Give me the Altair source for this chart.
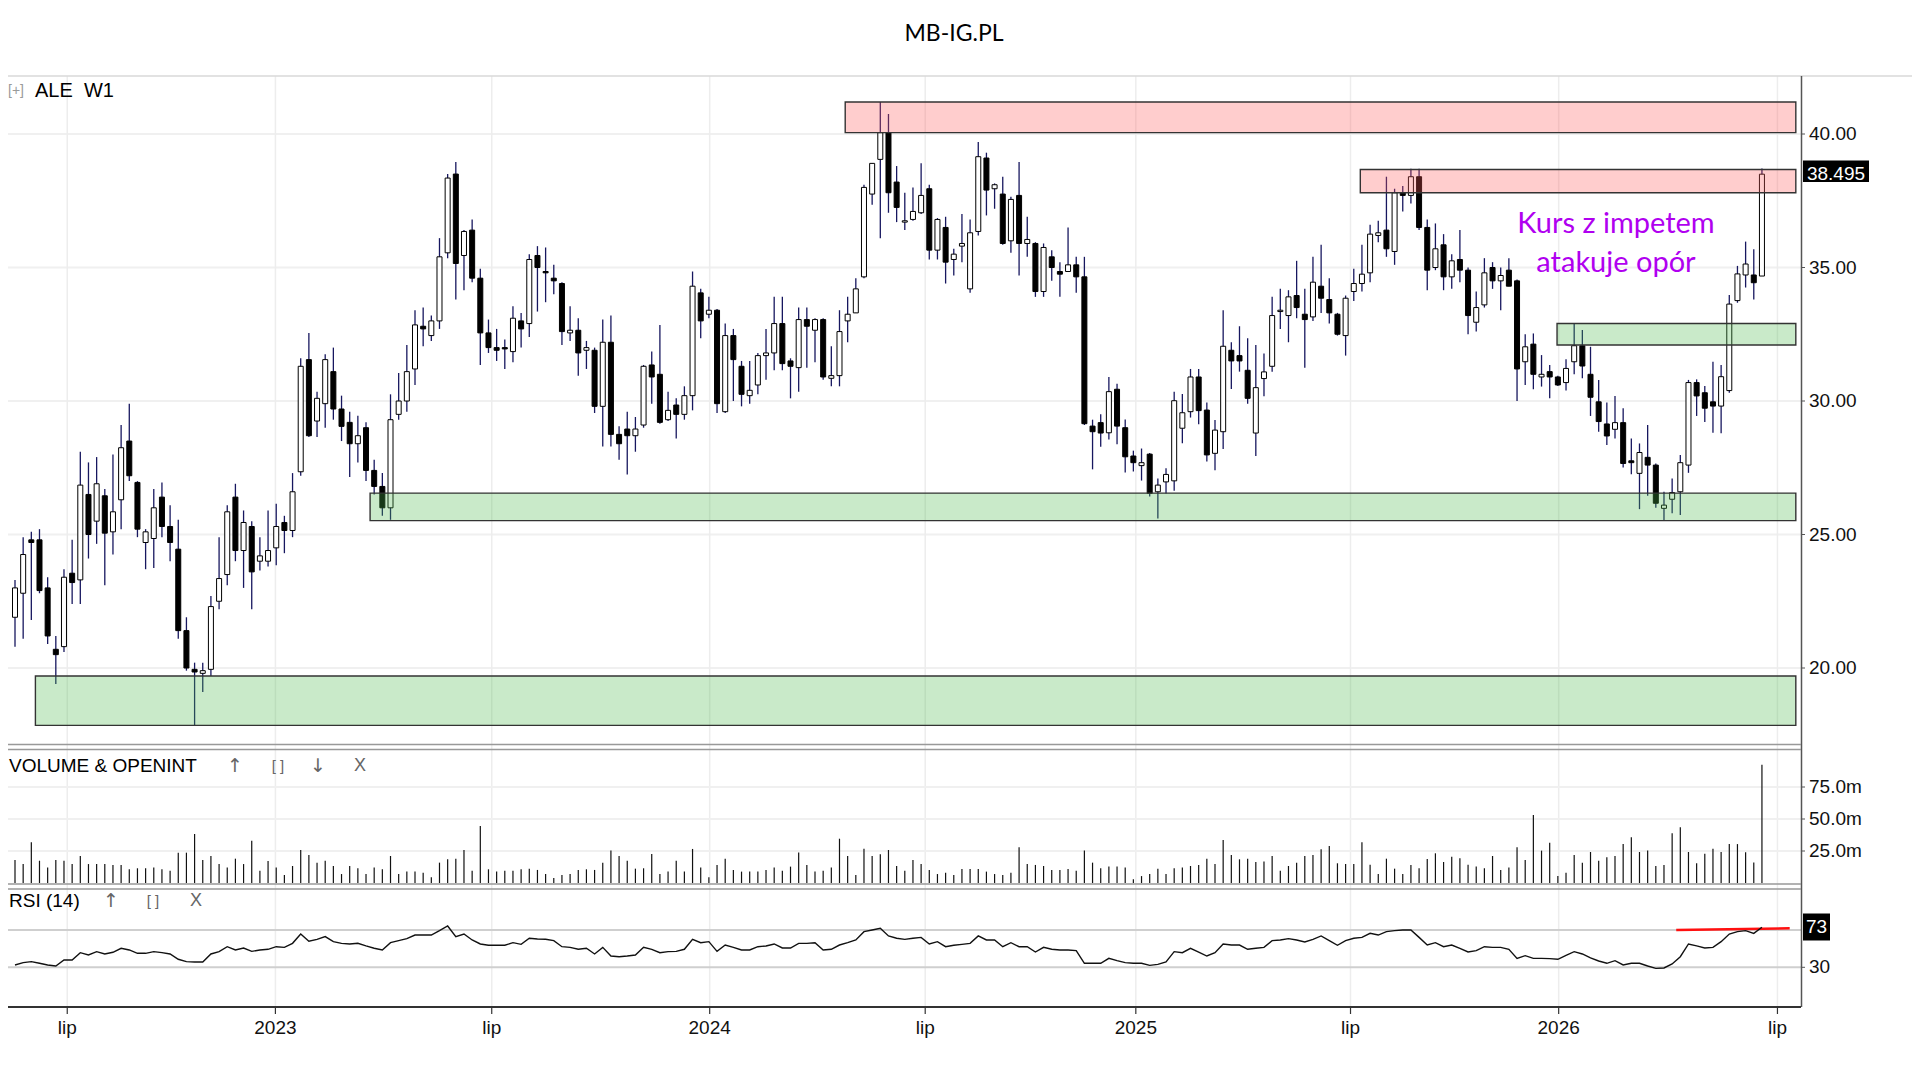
import altair as alt
import pandas as pd

# ---------------- data (weekly candles, index 0..214) -------------
opens = [21.9, 22.8, 24.8, 24.8, 23.0, 20.7, 20.8, 23.55, 23.3, 26.5,
         25.5, 26.45, 25.1, 26.3, 28.5, 26.95, 24.7, 24.85, 26.4, 25.3,
         24.45, 21.4, 19.95, 19.8, 19.95, 22.5, 23.5, 26.4, 24.4, 25.3,
         24.0, 24.0, 24.5, 25.45, 25.15, 27.35, 31.55, 29.25, 29.9, 31.1,
         29.7, 29.2, 28.4, 29.0, 27.4, 26.8, 26.0, 29.5, 30.0, 31.2,
         32.8, 32.45, 33.0, 35.55, 38.5, 35.45, 36.4, 34.6, 32.55, 32.0,
         32.0, 31.85, 33.0, 32.9, 35.45, 34.85, 34.6, 34.4, 32.55, 32.65,
         31.9, 31.9, 29.8, 32.2, 28.75, 28.95, 28.7, 29.1, 31.35, 31.0,
         29.3, 29.85, 29.5, 30.2, 34.05, 33.25, 33.4, 29.6, 32.45, 31.3,
         30.2, 30.6, 31.7, 31.8, 32.9, 31.5, 31.25, 33.05, 32.65, 33.05,
         30.85, 30.95, 33.0, 33.3, 34.65, 37.75, 39.05, 40.05, 38.2, 36.7,
         36.8, 37.05, 37.95, 35.65, 36.5, 35.3, 35.8, 34.2, 36.35, 39.1,
         37.95, 37.75, 36.0, 37.7, 35.9, 35.9, 34.1, 35.4, 34.85, 34.85,
         35.1, 34.65, 29.06, 29.19, 28.81, 30.44, 29.0, 27.94, 27.58, 28.01,
         26.6, 26.97, 27.01, 28.98, 29.6, 30.9, 29.66, 28.04, 28.85, 31.9,
         31.7, 31.15, 28.8, 30.84, 31.3, 33.35, 33.2, 33.95, 33.25, 33.15,
         34.3, 33.8, 33.25, 32.45, 34.1, 34.4, 34.8, 36.2, 36.4, 35.6,
         37.8, 37.7, 38.4, 36.5, 35.0, 35.85, 34.65, 35.3, 34.9, 32.95,
         33.6, 35.0, 34.5, 34.9, 34.5, 31.47, 32.13, 30.9, 31.1, 30.9,
         30.69, 31.47, 32.07, 31.0, 29.97, 29.14, 28.94, 29.19, 27.76, 27.29,
         27.89, 27.6, 25.98, 26.32, 26.6, 27.6, 30.69, 30.31, 29.97, 29.81,
         30.39, 33.76, 34.72, 34.72, 34.68]

highs = [23.3, 24.9, 25.1, 25.2, 23.4, 21.2, 23.7, 24.8, 28.1, 27.7,
         27.9, 26.7, 28.0, 29.1, 29.9, 27.0, 25.2, 26.7, 26.95, 26.1,
         25.55, 21.9, 20.2, 20.2, 22.7, 24.9, 26.1, 26.9, 25.9, 25.5,
         24.9, 25.9, 26.15, 25.7, 27.3, 31.6, 32.55, 30.35, 31.75, 32.0,
         30.2, 29.6, 29.45, 29.2, 27.8, 27.3, 30.25, 31.05, 32.1, 33.4,
         33.5, 33.2, 36.1, 38.5, 38.95, 36.4, 36.8, 34.95, 33.05, 32.7,
         32.3, 33.55, 33.3, 35.5, 35.8, 35.75, 35.1, 34.45, 33.55, 33.1,
         32.25, 32.0, 33.05, 33.2, 29.05, 29.6, 29.4, 31.35, 31.85, 32.85,
         30.35, 30.1, 30.55, 34.85, 34.2, 33.9, 33.45, 32.9, 32.7, 31.5,
         31.5, 31.8, 32.7, 33.9, 33.9, 31.6, 33.5, 33.5, 33.1, 33.1,
         32.05, 33.4, 33.9, 34.6, 38.1, 38.9, 41.2, 40.75, 38.8, 37.8,
         38.0, 38.9, 38.1, 36.85, 36.9, 35.7, 37.0, 36.8, 39.7, 39.3,
         38.15, 38.4, 37.65, 38.95, 36.9, 35.95, 35.9, 35.65, 35.2, 36.5,
         35.4, 35.4, 29.3, 29.5, 30.9, 30.65, 29.31, 28.14, 28.22, 28.05,
         27.1, 27.48, 30.35, 30.26, 31.2, 31.2, 29.94, 29.29, 33.4, 32.2,
         32.8, 32.35, 32.1, 31.78, 33.9, 34.2, 34.15, 35.25, 34.2, 35.4,
         35.85, 34.6, 33.3, 33.95, 34.95, 35.85, 36.6, 36.75, 38.4, 37.95,
         38.05, 38.7, 38.7, 36.8, 36.65, 36.25, 35.5, 36.4, 35.0, 34.1,
         35.35, 35.2, 35.0, 35.35, 34.55, 32.5, 32.53, 31.72, 31.35, 30.95,
         31.56, 32.9, 32.66, 32.03, 30.79, 29.94, 30.19, 29.73, 28.6, 28.41,
         29.1, 27.66, 26.6, 27.1, 27.98, 30.79, 30.81, 30.56, 31.47, 31.35,
         33.97, 35.06, 35.97, 35.68, 38.71]

lows = [20.8, 21.1, 21.8, 22.8, 20.9, 19.4, 20.6, 22.4, 22.4, 24.1,
        24.65, 23.1, 24.25, 25.2, 27.0, 24.9, 23.7, 23.75, 24.9, 24.0,
        21.1, 19.9, 17.85, 19.1, 19.7, 22.2, 23.1, 24.0, 23.0, 22.2,
        23.65, 23.8, 23.85, 24.3, 24.9, 27.2, 28.65, 28.65, 29.0, 29.3,
        28.5, 27.15, 27.7, 27.0, 26.5, 25.7, 25.55, 29.3, 29.6, 30.6,
        32.05, 32.25, 32.7, 35.35, 33.8, 34.15, 34.45, 31.35, 31.8, 31.5,
        31.2, 31.45, 32.0, 32.4, 33.35, 33.7, 34.0, 32.1, 32.25, 30.95,
        31.2, 29.55, 28.3, 28.3, 27.8, 27.25, 28.1, 29.0, 29.9, 29.15,
        29.25, 28.6, 29.3, 29.65, 32.35, 33.1, 29.55, 29.55, 30.0, 29.8,
        29.9, 30.25, 30.8, 31.15, 31.15, 30.1, 30.35, 31.25, 31.45, 30.8,
        30.55, 30.55, 32.2, 33.3, 34.6, 37.35, 36.1, 37.05, 36.7, 36.4,
        36.75, 37.0, 35.3, 35.3, 34.4, 34.7, 35.2, 34.05, 36.2, 36.95,
        37.2, 35.85, 35.55, 34.7, 35.4, 33.9, 33.9, 34.5, 33.9, 34.85,
        34.05, 29.1, 27.44, 28.29, 28.56, 28.38, 27.32, 27.36, 27.02, 26.42,
        25.6, 26.54, 26.64, 28.42, 29.38, 29.13, 27.73, 27.41, 28.2, 30.45,
        31.1, 29.9, 27.94, 30.18, 31.1, 32.7, 32.2, 33.1, 31.25, 33.0,
        33.3, 32.9, 32.45, 31.7, 33.75, 34.1, 34.45, 35.95, 35.4, 35.1,
        37.1, 37.4, 36.4, 34.15, 34.9, 34.15, 34.2, 34.45, 32.5, 32.6,
        33.5, 34.2, 33.4, 34.3, 30.0, 30.6, 30.44, 30.54, 30.1, 30.56,
        30.39, 31.0, 30.85, 29.44, 28.85, 28.35, 28.6, 27.51, 27.26, 25.95,
        26.45, 26.0, 25.54, 25.8, 25.73, 27.31, 29.44, 29.21, 28.81, 28.79,
        30.31, 33.68, 34.25, 33.8, 34.68]

closes = [23.0, 24.25, 24.7, 22.9, 21.2, 20.5, 23.4, 23.2, 26.85, 25.0,
          26.9, 25.05, 25.85, 28.25, 27.2, 25.2, 25.1, 26.0, 25.3, 24.7,
          21.4, 20.0, 19.85, 19.9, 22.3, 23.35, 25.85, 24.4, 25.45, 23.6,
          24.2, 24.4, 25.3, 25.15, 26.6, 31.3, 28.7, 30.1, 31.55, 29.7,
          29.05, 28.4, 28.7, 27.4, 26.8, 26.0, 29.3, 30.0, 31.1, 32.85,
          32.7, 33.0, 35.4, 38.35, 35.15, 36.35, 34.6, 32.55, 32.0, 31.9,
          31.95, 33.1, 32.7, 35.3, 35.0, 34.8, 34.5, 32.6, 32.65, 31.8,
          32.0, 29.8, 32.2, 28.75, 28.4, 28.7, 28.95, 31.3, 30.9, 29.2,
          29.65, 29.5, 30.2, 34.3, 33.0, 33.4, 29.9, 32.45, 31.55, 30.25,
          30.4, 31.7, 31.8, 32.9, 31.4, 31.3, 33.05, 32.8, 33.05, 30.9,
          30.95, 32.6, 33.25, 34.2, 38.0, 38.9, 40.05, 37.8, 37.25, 36.75,
          37.1, 37.7, 35.65, 36.8, 35.2, 35.5, 35.9, 36.3, 39.15, 37.9,
          38.1, 35.9, 37.55, 35.9, 36.05, 34.1, 35.75, 35.0, 34.75, 35.1,
          34.65, 29.15, 28.85, 28.8, 30.35, 29.06, 27.91, 27.69, 27.69, 26.54,
          26.85, 27.25, 30.01, 29.56, 30.9, 29.64, 27.98, 28.91, 32.05, 31.5,
          31.5, 30.1, 30.5, 31.09, 33.2, 33.4, 33.9, 33.5, 33.05, 34.45,
          33.85, 33.3, 32.5, 33.85, 34.4, 34.75, 36.25, 36.3, 35.7, 37.8,
          37.7, 38.4, 36.5, 34.9, 35.7, 34.65, 35.25, 34.9, 33.2, 33.5,
          34.8, 34.5, 34.7, 34.3, 31.2, 32.03, 31.0, 31.0, 30.9, 30.6,
          31.22, 32.07, 31.31, 30.14, 29.23, 28.69, 29.19, 27.66, 27.69, 28.07,
          27.6, 26.17, 26.1, 26.57, 27.69, 30.69, 30.19, 29.73, 29.81, 30.91,
          33.63, 34.76, 35.13, 34.43, 38.495]

volumes_m = [18.0, 14.8, 31.8, 17.4, 12.2, 18.0, 17.4, 14.8, 21.1, 14.8,
             14.8, 14.8, 14.1, 14.1, 10.7, 11.5, 11.5, 12.2, 10.7, 9.6,
             23.7, 23.7, 38.3, 18.0, 21.1, 14.8, 12.2, 19.0, 14.8, 33.1,
             9.6, 17.2, 12.2, 6.2, 13.3, 25.8, 21.9, 15.9, 17.4, 13.3,
             7.0, 13.3, 11.5, 7.0, 12.2, 10.7, 21.1, 7.0, 8.9, 8.9,
             8.0, 4.4, 15.9, 18.5, 19.0, 25.8, 9.6, 44.5, 10.7, 8.9,
             9.6, 9.6, 10.7, 11.2, 10.2, 7.0, 3.9, 6.2, 7.0, 10.2,
             10.7, 10.2, 15.9, 25.3, 21.1, 17.4, 11.2, 11.5, 22.7, 7.0,
             8.9, 17.4, 8.9, 26.6, 12.2, 4.4, 14.1, 19.0, 10.2, 8.9,
             8.9, 8.9, 10.2, 12.2, 9.6, 12.8, 23.9, 14.1, 8.9, 9.6,
             12.2, 34.6, 21.1, 6.2, 26.8, 21.1, 22.4, 25.8, 13.3, 9.6,
             18.0, 14.8, 10.2, 7.0, 8.0, 6.2, 11.0, 11.0, 11.0, 8.9,
             7.0, 6.2, 8.0, 27.9, 14.8, 14.1, 13.3, 10.2, 10.2, 11.0,
             9.6, 25.3, 15.9, 11.5, 12.8, 12.8, 12.2, 2.9, 5.4, 7.0,
             11.2, 7.0, 11.5, 12.2, 13.3, 14.1, 19.0, 14.8, 33.6, 21.9,
             18.5, 19.0, 16.4, 16.7, 21.1, 9.6, 13.3, 15.9, 21.1, 21.9,
             26.3, 28.9, 15.4, 14.8, 14.8, 31.8, 14.3, 7.0, 19.0, 11.2,
             7.0, 14.1, 11.5, 18.7, 23.2, 16.4, 20.6, 19.3, 14.3, 12.8,
             11.5, 21.1, 10.2, 12.2, 27.9, 18.0, 53.1, 25.3, 31.5, 5.4,
             8.0, 21.9, 15.9, 24.2, 17.4, 20.1, 21.1, 30.4, 35.7, 24.2,
             25.3, 13.3, 14.1, 38.8, 43.5, 24.2, 15.4, 22.9, 26.8, 24.2,
             30.4, 30.4, 24.0, 16.0, 92.4]

rsi14 = [32.5, 35.0, 36.1, 34.3, 32.5, 31.4, 37.9, 37.9, 45.7, 43.2,
         46.8, 44.3, 46.1, 50.4, 48.6, 45.0, 45.0, 46.8, 45.7, 44.3,
         38.6, 36.1, 35.7, 35.7, 44.3, 46.8, 52.1, 48.6, 50.7, 47.1,
         48.6, 49.3, 52.1, 51.4, 55.7, 65.7, 57.9, 60.0, 62.9, 57.5,
         55.7, 55.0, 55.7, 52.9, 50.4, 48.6, 56.4, 58.6, 60.7, 64.6,
         64.6, 64.6, 69.3, 74.3, 62.9, 65.7, 59.3, 55.0, 53.6, 53.6,
         53.6, 56.4, 54.6, 61.1, 60.4, 60.0, 58.6, 52.1, 51.4, 49.3,
         50.4, 44.3, 51.4, 42.1, 41.4, 42.1, 43.2, 51.4, 49.3, 45.7,
         46.8, 47.1, 49.3, 60.0, 56.4, 57.5, 47.1, 53.9, 51.4, 48.6,
         48.6, 52.1, 52.9, 55.0, 50.7, 50.7, 55.7, 55.7, 56.4, 48.6,
         49.3, 53.9, 56.4, 59.3, 68.2, 70.0, 71.8, 63.6, 61.1, 60.0,
         61.1, 62.1, 55.0, 57.5, 52.1, 53.6, 54.6, 55.7, 63.6, 59.3,
         59.3, 52.1, 56.4, 52.1, 52.1, 46.4, 51.4, 49.3, 48.6, 48.6,
         47.9, 34.3, 34.3, 34.3, 39.6, 37.1, 35.0, 34.3, 34.3, 32.1,
         33.2, 35.7, 46.8, 45.7, 50.4, 46.4, 42.1, 45.7, 55.0, 53.9,
         53.9, 49.3, 50.4, 51.4, 58.6, 59.3, 60.7, 59.3, 57.1, 60.0,
         63.6, 58.6, 53.6, 58.6, 61.1, 62.1, 66.4, 64.6, 68.2, 69.3,
         70.0, 70.0, 62.1, 53.9, 56.4, 52.1, 53.9, 50.4, 46.4, 47.9,
         52.1, 51.4, 51.4, 49.3, 39.6, 42.5, 39.6, 39.6, 39.3, 38.6,
         42.9, 46.8, 44.3, 40.0, 36.8, 34.3, 37.1, 32.5, 34.3, 34.3,
         31.4, 28.9, 29.3, 33.6, 41.4, 55.0, 52.9, 50.7, 51.4, 57.5,
         65.7, 68.2, 69.3, 66.4, 72.9]

# x-axis labels (bar-index positions) and price / volume / rsi tick labels
x_label_pos = [6.4, 31.9, 58.4, 85.1, 111.5, 137.3, 163.6, 189.1, 215.9]
x_label_txt = ["lip", "2023", "lip", "2024", "lip", "2025", "lip", "2026", "lip"]
price_ticks = [20, 25, 30, 35, 40]
price_tick_txt = ["20.00", "25.00", "30.00", "35.00", "40.00"]
vol_ticks = [25, 50, 75]
vol_tick_txt = ["25.0m", "50.0m", "75.0m"]
rsi_levels = [30, 70]

# zones: start index, end index, low price, high price
res_start = [101.7, 164.8]
res_end = [218.15, 218.15]
res_lo = [40.05, 37.8]
res_hi = [41.2, 38.67]
sup_start = [43.5, 188.9, 2.5]
sup_end = [218.15, 218.15, 218.15]
sup_lo = [25.52, 32.1, 17.85]
sup_hi = [26.55, 32.9, 19.7]

last_price = 38.495
last_rsi = 73
rsi_mark_x = [203.5]
rsi_mark_x2 = [217.4]
rsi_mark_y = [70.0]
rsi_mark_y2 = [71.8]

# ---------------- tables ----------------
n = len(closes)
df = pd.DataFrame({"i": list(range(n)), "o": opens, "h": highs, "l": lows,
                   "c": closes, "v": volumes_m, "r": rsi14, "z": [0] * n})
zones_r = pd.DataFrame({"x": res_start, "x2": res_end, "y": res_lo, "y2": res_hi})
zones_g = pd.DataFrame({"x": sup_start, "x2": sup_end, "y": sup_lo, "y2": sup_hi})
xl = pd.DataFrame({"pos": x_label_pos, "t": x_label_txt})
pt = pd.DataFrame({"p": price_ticks, "t": price_tick_txt})
vt = pd.DataFrame({"p": vol_ticks, "t": vol_tick_txt})
rl = pd.DataFrame({"p": rsi_levels})
rm = pd.DataFrame({"x": rsi_mark_x, "x2": rsi_mark_x2, "y": rsi_mark_y, "y2": rsi_mark_y2})
dummy = pd.DataFrame({"a": [0]})

# ---------------- scales (pixel ranges place the three panels) ----------------
X = alt.Scale(domain=[0, 214], range=[2, 1758.94], nice=False, zero=False)
PY = alt.Scale(domain=[17, 42], range=[740.1, 72.6], nice=False, zero=False)
VY = alt.Scale(domain=[0, 100], range=[875, 747], nice=False, zero=False)
RY = alt.Scale(domain=[0, 100], range=[987.3, 894.0], nice=False, zero=False)

FONT = "Liberation Sans"


def xq(f):
    return alt.X(f, type="quantitative", scale=X, axis=None)


def hline(y, x1, x2, color, w):
    return alt.Chart(dummy).mark_rule(color=color, strokeWidth=w).encode(
        x=alt.value(x1), x2=alt.value(x2), y=alt.value(y))


def vline(x, y1, y2, color, w):
    return alt.Chart(dummy).mark_rule(color=color, strokeWidth=w).encode(
        x=alt.value(x), y=alt.value(y1), y2=alt.value(y2))


def txt(s, x, y, size, color="black", font=FONT, align="left", weight="normal"):
    return alt.Chart(dummy).mark_text(text=s, fontSize=size, color=color, font=font,
                                      align=align, baseline="middle",
                                      fontWeight=weight).encode(
        x=alt.value(x), y=alt.value(y))


layers = []

# grid
layers.append(alt.Chart(pt).mark_rule(color="#f0f0f0", strokeWidth=2).encode(
    y=alt.Y("p:Q", scale=PY, axis=None), x=alt.value(0), x2=alt.value(1793)))
layers.append(alt.Chart(xl).mark_rule(color="#ededed", strokeWidth=1.5).encode(
    x=xq("pos"), y=alt.value(68), y2=alt.value(998)))
layers.append(alt.Chart(vt).mark_rule(color="#f0f0f0", strokeWidth=2).encode(
    y=alt.Y("p:Q", scale=VY, axis=None), x=alt.value(0), x2=alt.value(1793)))
layers.append(alt.Chart(rl).mark_rule(color="#cfcfcf", strokeWidth=2).encode(
    y=alt.Y("p:Q", scale=RY, axis=None), x=alt.value(0), x2=alt.value(1793)))

# candles
layers.append(alt.Chart(df).mark_rule(color="#17175f", strokeWidth=1.3).encode(
    x=xq("i"), y=alt.Y("l:Q", scale=PY, axis=None), y2="h:Q"))
layers.append(alt.Chart(df).transform_filter("datum.c >= datum.o").mark_bar(
    size=5, fill="white", stroke="black", strokeWidth=1).encode(
    x=xq("i"), y=alt.Y("o:Q", scale=PY, axis=None), y2="c:Q"))
layers.append(alt.Chart(df).transform_filter("datum.c < datum.o").mark_bar(
    size=5, fill="black", stroke="black", strokeWidth=1).encode(
    x=xq("i"), y=alt.Y("o:Q", scale=PY, axis=None), y2="c:Q"))

# zones on top (semi-transparent)
layers.append(alt.Chart(zones_r).mark_rect(fill="#ff5a5a", fillOpacity=0.3,
                                           stroke="#333333", strokeWidth=1.4).encode(
    x=xq("x"), x2="x2:Q", y=alt.Y("y:Q", scale=PY, axis=None), y2="y2:Q"))
layers.append(alt.Chart(zones_g).mark_rect(fill="#4cbb4c", fillOpacity=0.3,
                                           stroke="#333333", strokeWidth=1.4).encode(
    x=xq("x"), x2="x2:Q", y=alt.Y("y:Q", scale=PY, axis=None), y2="y2:Q"))

# volume
layers.append(alt.Chart(df).mark_rule(color="#111111", strokeWidth=1.2).encode(
    x=xq("i"), y=alt.Y("v:Q", scale=VY, axis=None), y2="z:Q"))

# rsi
layers.append(alt.Chart(rm).mark_rule(color="#ff1010", strokeWidth=2.5).encode(
    x=xq("x"), x2="x2:Q", y=alt.Y("y:Q", scale=RY, axis=None), y2="y2:Q"))
layers.append(alt.Chart(df).mark_line(color="#111111", strokeWidth=1.4).encode(
    x=xq("i"), y=alt.Y("r:Q", scale=RY, axis=None)))

# frames
layers += [
    hline(68, 0, 1904, "#d8d8d8", 1.5),
    vline(1793.5, 68, 999, "#555555", 1.5),
    hline(736.5, 0, 1793, "#999999", 1.5),
    hline(741.5, 0, 1793, "#999999", 1.5),
    hline(876, 0, 1793, "#999999", 1.5),
    hline(881, 0, 1793, "#999999", 1.5),
    hline(999, 0, 1793, "#333333", 2),
]

# price axis ticks + labels
layers.append(alt.Chart(pt).mark_rule(color="#555555", strokeWidth=1).encode(
    y=alt.Y("p:Q", scale=PY, axis=None), x=alt.value(1793), x2=alt.value(1797)))
layers.append(alt.Chart(pt).mark_text(align="left", baseline="middle", fontSize=19,
                                      font=FONT, color="#111111").encode(
    y=alt.Y("p:Q", scale=PY, axis=None), x=alt.value(1801), text="t:N"))
layers.append(alt.Chart(vt).mark_rule(color="#555555", strokeWidth=1).encode(
    y=alt.Y("p:Q", scale=VY, axis=None), x=alt.value(1793), x2=alt.value(1797)))
layers.append(alt.Chart(vt).mark_text(align="left", baseline="middle", fontSize=19,
                                      font=FONT, color="#111111").encode(
    y=alt.Y("p:Q", scale=VY, axis=None), x=alt.value(1801), text="t:N"))
layers.append(alt.Chart(pd.DataFrame({"p": [30], "t": ["30"]})).mark_rule(
    color="#555555", strokeWidth=1).encode(
    y=alt.Y("p:Q", scale=RY, axis=None), x=alt.value(1793), x2=alt.value(1797)))
layers.append(alt.Chart(pd.DataFrame({"p": [30], "t": ["30"]})).mark_text(
    align="left", baseline="middle", fontSize=19, font=FONT, color="#111111").encode(
    y=alt.Y("p:Q", scale=RY, axis=None), x=alt.value(1801), text="t:N"))

# last price box
layers.append(alt.Chart(dummy).mark_rect(color="black").encode(
    x=alt.value(1795), x2=alt.value(1861), y=alt.value(152.5), y2=alt.value(174)))
layers.append(alt.Chart(pd.DataFrame({"p": [last_price], "t": ["38.495"]})).mark_text(
    align="center", baseline="middle", fontSize=19, font=FONT, color="white").encode(
    y=alt.Y("p:Q", scale=PY, axis=None), x=alt.value(1828), text="t:N"))
# last rsi box
layers.append(alt.Chart(dummy).mark_rect(color="black").encode(
    x=alt.value(1795), x2=alt.value(1822), y=alt.value(905.5), y2=alt.value(932.5)))
layers.append(alt.Chart(pd.DataFrame({"p": [last_rsi], "t": ["73"]})).mark_text(
    align="center", baseline="middle", fontSize=19, font=FONT, color="white").encode(
    y=alt.Y("p:Q", scale=RY, axis=None), x=alt.value(1808.5), text="t:N"))

# x axis ticks + labels
layers.append(alt.Chart(xl).mark_rule(color="#333333", strokeWidth=1.2).encode(
    x=xq("pos"), y=alt.value(999), y2=alt.value(1006)))
layers.append(alt.Chart(xl).mark_text(align="center", baseline="middle", fontSize=19,
                                      font=FONT, color="#111111").encode(
    x=xq("pos"), y=alt.value(1020), text="t:N"))

# titles / panel captions
layers += [
    txt("MB-IG.PL", 946, 26, 23, font="Lato", align="center"),
    txt("[+]", 0, 82.5, 14, color="#9a9a9a"),
    txt("ALE\u00a0\u00a0W1", 27, 82.5, 20),
    txt("VOLUME & OPENINT", 1, 757.5, 19),
    txt("\u2191", 227, 757.5, 19, color="#666666", font="DejaVu Sans", align="center"),
    txt("[ ]", 270, 757.5, 15, color="#666666", align="center"),
    txt("\u2193", 310, 757.5, 19, color="#666666", font="DejaVu Sans", align="center"),
    txt("X", 352, 757.5, 18, color="#666666", align="center"),
    txt("RSI (14)", 1, 893, 19),
    txt("\u2191", 103, 893, 19, color="#666666", font="DejaVu Sans", align="center"),
    txt("[ ]", 145, 893, 15, color="#666666", align="center"),
    txt("X", 188, 893, 18, color="#666666", align="center"),
    txt("Kurs z impetem", 1608, 216, 29, color="#B000F0", font="Lato", align="center"),
    txt("atakuje opór", 1608, 255, 29, color="#B000F0", font="Lato", align="center"),
]

chart = alt.layer(*layers).resolve_scale(y="independent").properties(
    width=1904, height=1056, padding=0,
    autosize=alt.AutoSizeParams(type="none"),
    background="white",
).configure_view(strokeWidth=0)

chart.save("out.html", embed_options={"renderer": "svg", "actions": False})
